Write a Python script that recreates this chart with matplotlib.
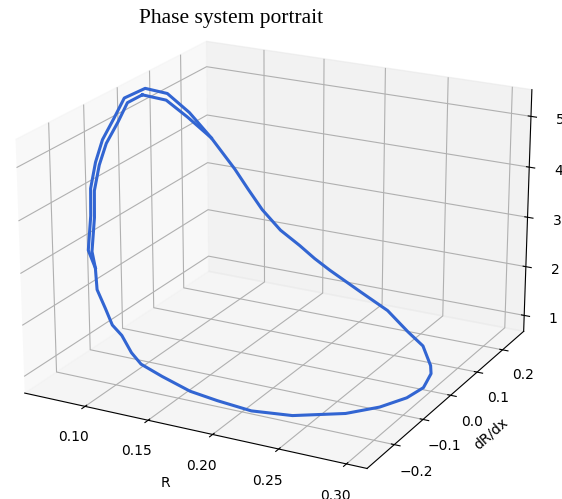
import numpy as np
import matplotlib.pyplot as plt

# main limit cycle (R, dR/dx, third variable)
R = [0.0716, 0.0831, 0.0899, 0.1017, 0.116, 0.1256, 0.136, 0.151, 0.1667, 0.179,
     0.1914, 0.2185, 0.2423, 0.2669, 0.285, 0.3014, 0.3035, 0.3038, 0.3035, 0.2978,
     0.2873, 0.2705, 0.2402, 0.2109, 0.1863, 0.1652, 0.1421, 0.1271, 0.1203, 0.1105,
     0.1018, 0.0947, 0.0875, 0.0826, 0.0771, 0.075, 0.0738, 0.0724, 0.0715, 0.0702,
     0.0685, 0.0716]
dR = [0.0, 0.03, 0.07, 0.10, 0.12, 0.125, 0.13, 0.13, 0.13, 0.13,
      0.13, 0.12, 0.11, 0.07, 0.04, -0.01, -0.018, -0.035, -0.045, -0.077,
      -0.123, -0.163, -0.206, -0.215, -0.222, -0.222, -0.218, -0.224, -0.2265, -0.218,
      -0.2135, -0.207, -0.204, -0.19, -0.179, -0.162, -0.156, -0.135, -0.11, -0.07,
      -0.034, 0.0]
Z = [5.45, 5.29, 4.85, 4.38, 3.74, 3.36, 2.97, 2.62, 2.38, 2.17,
     1.99, 1.72, 1.50, 1.37, 1.31, 1.23, 1.12, 1.04, 0.97, 0.89,
     0.87, 0.845, 0.845, 0.82, 0.92, 0.99, 1.14, 1.33, 1.53, 1.78,
     1.92, 2.18, 2.5, 2.84, 3.09, 3.67, 4.16, 4.57, 4.89, 5.15,
     5.40, 5.45]

# earlier turn of the trajectory (makes the top of the loop look thicker)
R2 = [0.0826, 0.0741, 0.0720, 0.0708, 0.0694, 0.0685, 0.0672, 0.0660, 0.0700, 0.0815, 0.0890, 0.1017]
dR2 = [-0.19, -0.179, -0.162, -0.156, -0.135, -0.11, -0.07, -0.034, 0.015, 0.04, 0.08, 0.10]
Z2 = [2.84, 3.10, 3.69, 4.19, 4.61, 4.95, 5.22, 5.48, 5.52, 5.38, 4.90, 4.38]

fig = plt.figure(figsize=(5.62, 4.99), dpi=100)
ax = fig.add_axes([-0.012, 0.006, 1.0, 1.0], projection='3d')
ax.view_init(elev=20.5, azim=-62.5)
ax.set_box_aspect((4, 4, 2.81), zoom=1.155)

ax.plot(R, dR, Z, color='#3265d2', lw=2.2)
ax.plot(R2, dR2, Z2, color='#3265d2', lw=2.2)

ax.set_xlim(0.051, 0.315)
ax.set_ylim(-0.291, 0.286)
ax.set_zlim(0.67, 5.52)
ax.set_xlabel('R')
ax.set_ylabel('dR/dx', labelpad=1)

fig.text(231 / 562, 1 - 19 / 499, 'Phase system portrait', ha='center', va='center',
         fontname='Liberation Serif', fontsize=15.5)

fig.savefig('out.png')
